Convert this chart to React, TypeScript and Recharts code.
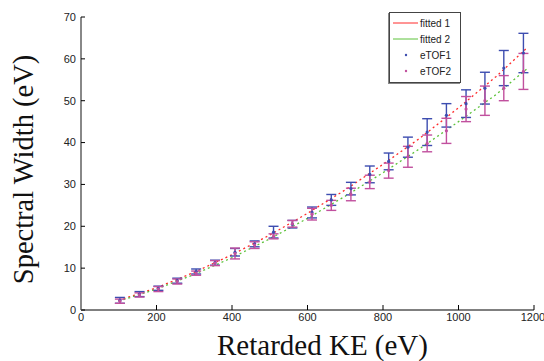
import React from 'react';
import { ComposedChart, Line, Scatter, XAxis, YAxis, ErrorBar, Legend, Label } from 'recharts';

const energies = [103, 155, 205, 255, 305, 355, 408, 460, 510, 560, 612, 663, 715, 765, 815, 866, 917, 968, 1020, 1070, 1120, 1172];
const etof1Width = [2.3, 3.8, 5.2, 7.0, 9.2, 11.3, 13.8, 15.8, 18.6, 20.5, 23.3, 26.3, 29.0, 32.4, 35.5, 38.9, 42.5, 46.5, 49.3, 53.0, 57.8, 61.4];
const etof1Err = [0.7, 0.6, 0.5, 0.6, 0.6, 0.6, 0.9, 0.7, 1.4, 0.9, 1.3, 1.3, 1.5, 2.0, 2.0, 2.4, 3.2, 2.8, 3.3, 3.8, 4.2, 4.7];
const etof2Width = [2.1, 3.6, 5.0, 6.8, 8.8, 11.2, 13.5, 15.5, 17.6, 20.6, 22.9, 25.0, 27.6, 30.6, 33.3, 36.6, 39.8, 42.8, 48.0, 50.0, 53.0, 57.0];
const etof2Err = [0.5, 0.5, 0.6, 0.6, 0.5, 0.6, 1.3, 0.8, 0.6, 0.8, 1.4, 1.2, 1.5, 1.6, 1.8, 2.5, 2.0, 3.0, 3.0, 3.5, 3.0, 4.3];

const fitEnergies = [100, 200, 300, 400, 500, 600, 700, 800, 900, 1000, 1100, 1180];
const fit1Width = [2.3, 5.3, 9.0, 13.2, 17.9, 23.1, 28.7, 34.8, 41.2, 48.3, 55.8, 62.5];
const fit2Width = [2.1, 5.0, 8.5, 12.5, 17.0, 21.9, 27.2, 32.8, 38.7, 45.0, 51.5, 57.5];

const xTicks = [0, 200, 400, 600, 800, 1000, 1200];
const yTicks = [0, 10, 20, 30, 40, 50, 60, 70];

const seriesNames = ['fitted 1', 'fitted 2', 'eTOF1', 'eTOF2'];

const RED = '#ff2a2a';
const GREEN = '#5cc23a';
const BLUE = '#3d4db0';
const MAGENTA = '#c1509e';

const etof1 = energies.map((x, i) => ({ x, y: etof1Width[i], err: etof1Err[i] }));
const etof2 = energies.map((x, i) => ({ x, y: etof2Width[i], err: etof2Err[i] }));
const fit1 = fitEnergies.map((x, i) => ({ x, y: fit1Width[i] }));
const fit2 = fitEnergies.map((x, i) => ({ x, y: fit2Width[i] }));

const dot = (color: string) => (props: any) => (
  <circle cx={props.cx} cy={props.cy} r={1.6} fill={color} />
);

const LegendBox = (props: any) => {
  const payload = [...(props.payload || [])].sort(
    (a: any, b: any) => seriesNames.indexOf(a.value) - seriesNames.indexOf(b.value)
  );
  return (
    <div
      style={{
        border: '1px solid #444',
        boxShadow: '-1px 1px 0 #888',
        background: '#fff',
        width: 70,
        padding: '2px 0 3px 0',
        fontFamily: 'Liberation Sans, Arial, sans-serif',
        fontSize: 10,
        color: '#222',
      }}
    >
      {payload.map((p: any, i: number) => (
        <div key={i} style={{ display: 'flex', alignItems: 'center', height: 16 }}>
          <svg width={30} height={10} style={{ marginLeft: 3 }}>
            {p.type === 'line' ? (
              <line x1={0} y1={5} x2={25} y2={5} stroke={p.color} strokeWidth={1} />
            ) : (
              <circle cx={13} cy={5} r={1.2} fill={p.color} />
            )}
          </svg>
          <span style={{ marginLeft: -3 }}>{p.value}</span>
        </div>
      ))}
    </div>
  );
};

export default function App() {
  return (
    <div style={{ position: 'absolute', left: 0, top: 0, background: '#fff' }}>
      <ComposedChart width={544} height={361} margin={{ top: 17, right: 10, bottom: 0, left: 0 }}>
        <XAxis
          dataKey="x"
          type="number"
          domain={[0, 1200]}
          ticks={xTicks}
          allowDataOverflow
          height={51}
          tickSize={-5}
          tickMargin={8}
          axisLine={{ stroke: '#000', strokeWidth: 1 }}
          tickLine={{ stroke: '#000' }}
          tick={{ fontFamily: 'Liberation Sans, Arial, sans-serif', fontSize: 11, fill: '#222' }}
        >
          <Label
            value="Retarded KE (eV)"
            position="insideBottom"
            offset={6}
            dx={15}
            style={{ fontFamily: 'Liberation Serif, Times New Roman, serif', fontSize: 29, fill: '#111' }}
          />
        </XAxis>
        <YAxis
          type="number"
          domain={[0, 70]}
          ticks={yTicks}
          allowDataOverflow
          width={81}
          tickSize={-4}
          tickMargin={9}
          axisLine={{ stroke: '#888', strokeWidth: 2 }}
          tickLine={{ stroke: '#000' }}
          tick={{ fontFamily: 'Liberation Sans, Arial, sans-serif', fontSize: 11, fill: '#222' }}
        >
          <Label
            content={(props: any) => {
              const vb = props.viewBox || { x: 0, y: 17, width: 81, height: 293 };
              const cx = 33;
              const cy = vb.y + vb.height / 2 + 6;
              return (
                <text
                  x={cx}
                  y={cy}
                  transform={`rotate(-90, ${cx}, ${cy})`}
                  textAnchor="middle"
                  style={{ fontFamily: 'Liberation Serif, Times New Roman, serif', fontSize: 28.5, fill: '#111' }}
                >
                  Spectral Width (eV)
                </text>
              );
            }}
          />
        </YAxis>
        <Line
          data={fit1}
          dataKey="y"
          name={seriesNames[0]}
          stroke={RED}
          strokeWidth={1.3}
          strokeDasharray="2 3"
          dot={false}
          activeDot={false}
          legendType="line"
          isAnimationActive={false}
        />
        <Line
          data={fit2}
          dataKey="y"
          name={seriesNames[1]}
          stroke={GREEN}
          strokeWidth={1.3}
          strokeDasharray="2 3"
          dot={false}
          activeDot={false}
          legendType="line"
          isAnimationActive={false}
        />
        <Scatter
          data={etof1}
          dataKey="y"
          name={seriesNames[2]}
          fill={BLUE}
          shape={dot(BLUE)}
          legendType="circle"
          isAnimationActive={false}
        >
          <ErrorBar dataKey="err" direction="y" width={5} stroke={BLUE} strokeWidth={1.4} isAnimationActive={false} />
        </Scatter>
        <Scatter
          data={etof2}
          dataKey="y"
          name={seriesNames[3]}
          fill={MAGENTA}
          shape={dot(MAGENTA)}
          legendType="circle"
          isAnimationActive={false}
        >
          <ErrorBar dataKey="err" direction="y" width={5} stroke={MAGENTA} strokeWidth={1.4} isAnimationActive={false} />
        </Scatter>
        <Legend
          layout="vertical"
          align="center"
          verticalAlign="middle"
          content={<LegendBox />}
          wrapperStyle={{ left: 389, top: 12, width: 72 }}
        />
      </ComposedChart>
    </div>
  );
}
